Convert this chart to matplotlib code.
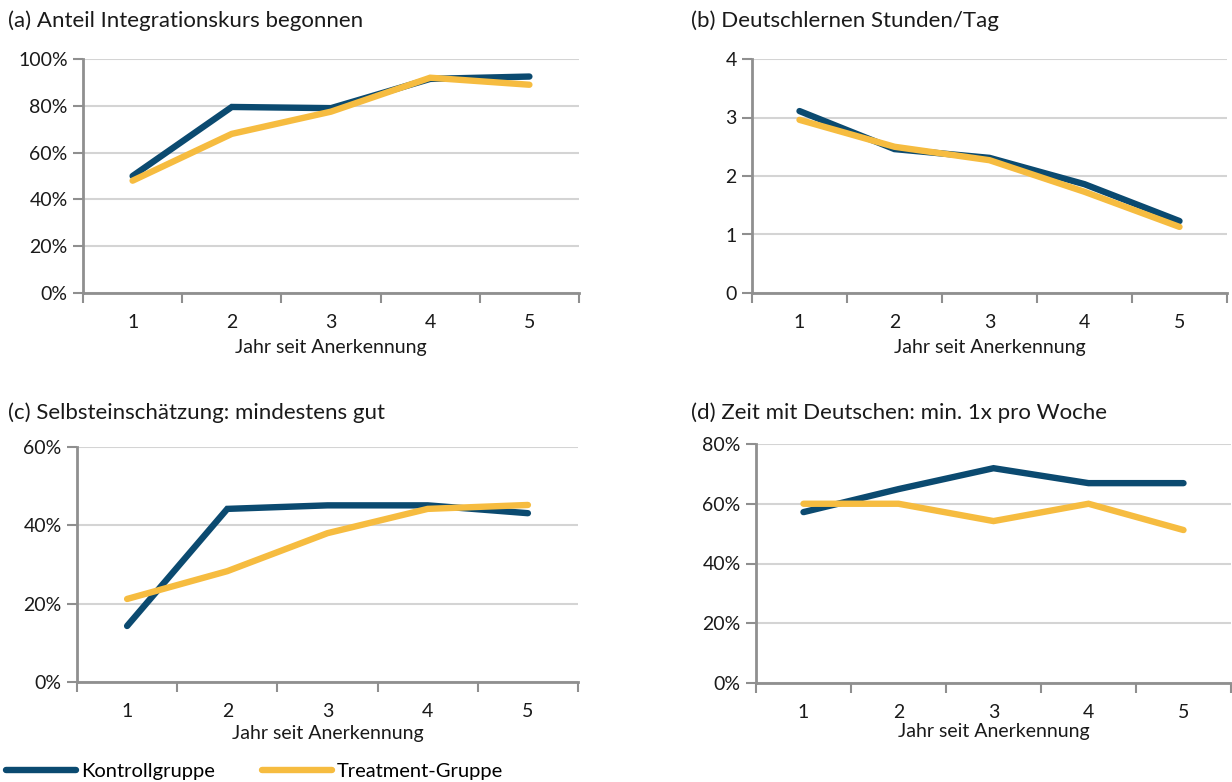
import matplotlib
matplotlib.use("Agg")
import matplotlib.pyplot as plt
from matplotlib.ticker import FixedLocator, FuncFormatter

plt.rcParams['font.family'] = ['Lato', 'DejaVu Sans']

years = [1, 2, 3, 4, 5]
year_labels = ["1", "2", "3", "4", "5"]

# (a) Anteil Integrationskurs begonnen (%)
a_kontroll = [50, 79.5, 79, 91.5, 92.5]
a_treatment = [48, 68, 77.5, 92, 89]
# (b) Deutschlernen Stunden/Tag
b_kontroll = [3.11, 2.46, 2.31, 1.86, 1.23]
b_treatment = [2.96, 2.50, 2.27, 1.73, 1.13]
# (c) Selbsteinschätzung: mindestens gut (%)
c_kontroll = [14.3, 44.2, 45.1, 45.1, 43.1]
c_treatment = [21.2, 28.3, 38.0, 44.2, 45.2]
# (d) Zeit mit Deutschen: min. 1x pro Woche (%)
d_kontroll = [57.2, 64.9, 71.9, 66.9, 66.9]
d_treatment = [60.0, 60.0, 54.2, 60.0, 51.2]

titles = ["(a) Anteil Integrationskurs begonnen",
          "(b) Deutschlernen Stunden/Tag",
          "(c) Selbsteinschätzung: mindestens gut",
          "(d) Zeit mit Deutschen: min. 1x pro Woche"]
series_names = ["Kontrollgruppe", "Treatment-Gruppe"]
xlabel = "Jahr seit Anerkennung"

NAVY = "#0b4a70"
YELLOW = "#f6bc40"
GRID = "#d4d4d4"
SPINE = "#8f8f8f"
TXT = "#1a1a1a"

W, H = 1232, 782
fig = plt.figure(figsize=(W / 100, H / 100), dpi=100)

def px_axes(left, right, top, bottom):
    return fig.add_axes([left / W, 1 - bottom / H, (right - left) / W, (bottom - top) / H])

panels = [
    dict(box=(83, 579, 59, 293), k=a_kontroll, t=a_treatment, yt=[0, 20, 40, 60, 80, 100], pct=True,
         title_xy=(8, 21), xl_y=348),
    dict(box=(752, 1227, 59, 293), k=b_kontroll, t=b_treatment, yt=[0, 1, 2, 3, 4], pct=False,
         title_xy=(691, 21), xl_y=348),
    dict(box=(77, 578, 447, 682), k=c_kontroll, t=c_treatment, yt=[0, 20, 40, 60], pct=True,
         title_xy=(8, 413), xl_y=734),
    dict(box=(756, 1231, 444, 683), k=d_kontroll, t=d_treatment, yt=[0, 20, 40, 60, 80], pct=True,
         title_xy=(691, 413), xl_y=731),
]

handles = None
for p, title in zip(panels, titles):
    l, r, t, b = p["box"]
    ax = px_axes(l, r, t, b)
    hk, = ax.plot(years, p["k"], color=NAVY, lw=4.6, solid_capstyle='round', solid_joinstyle='miter', zorder=3)
    ht, = ax.plot(years, p["t"], color=YELLOW, lw=4.6, solid_capstyle='round', solid_joinstyle='miter', zorder=4)
    handles = [hk, ht]
    ax.set_xlim(0.5, 5.5)
    ax.set_ylim(p["yt"][0], p["yt"][-1])
    ax.set_yticks(p["yt"])
    if p["pct"]:
        ax.yaxis.set_major_formatter(FuncFormatter(lambda v, pos: f"{v:.0f}%"))
    else:
        ax.yaxis.set_major_formatter(FuncFormatter(lambda v, pos: f"{v:.0f}"))
    ax.set_xticks(years)
    ax.set_xticklabels(year_labels)
    ax.xaxis.set_minor_locator(FixedLocator([0.5, 1.5, 2.5, 3.5, 4.5, 5.5]))
    ax.tick_params(axis='x', which='major', length=0, pad=15, labelsize=14, colors=TXT)
    ax.tick_params(axis='x', which='minor', length=7, width=1.5, color=SPINE, direction='out')
    ax.tick_params(axis='y', which='major', length=7, width=1.5, color=SPINE, direction='out',
                   labelsize=14, labelcolor=TXT, pad=4)
    ax.grid(axis='y', color=GRID, lw=1.5, zorder=0)
    ax.set_axisbelow(True)
    for s in ['top', 'right']:
        ax.spines[s].set_visible(False)
    for s in ['left', 'bottom']:
        ax.spines[s].set_color(SPINE)
        ax.spines[s].set_linewidth(2)
    ax.spines['bottom'].set_zorder(5)
    fig.text(p["title_xy"][0] / W, 1 - p["title_xy"][1] / H, title, fontsize=16,
             ha='left', va='center', color=TXT)
    fig.text(((l + r) / 2) / W, 1 - p["xl_y"] / H, xlabel, fontsize=14,
             ha='center', va='center', color=TXT)

fig.legend(handles, series_names, loc='center left', bbox_to_anchor=(6 / W, 1 - 771 / H),
           ncol=2, frameon=False, fontsize=14.5, handlelength=3.5, handletextpad=0.25,
           columnspacing=2.3, borderaxespad=0, borderpad=0)

fig.savefig("out.png", dpi=100)
